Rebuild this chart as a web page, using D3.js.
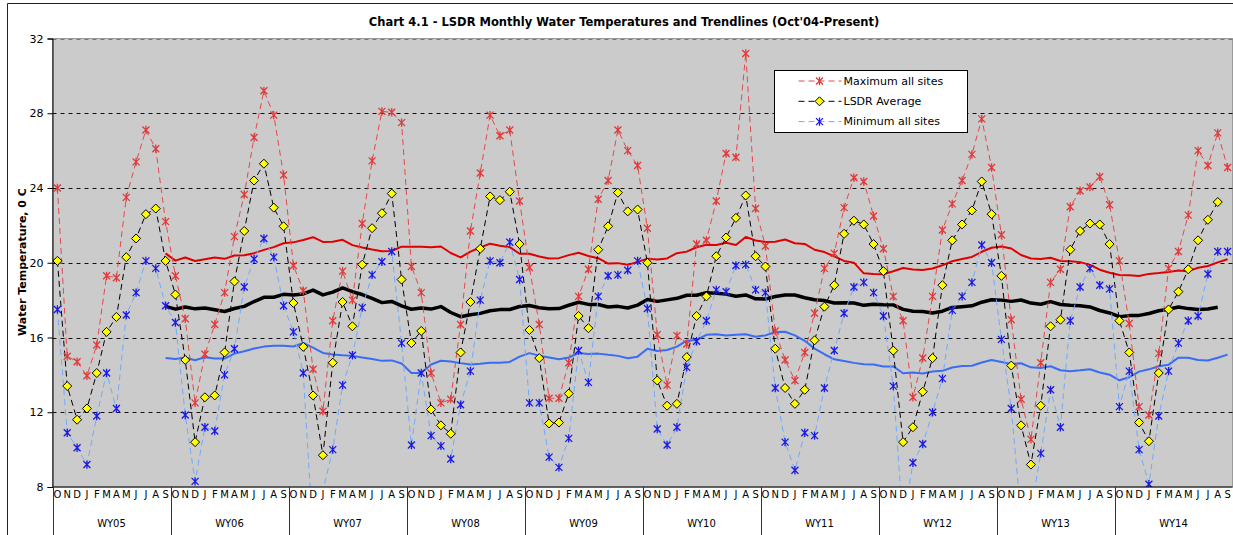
<!DOCTYPE html>
<html>
<head>
<meta charset="utf-8">
<title>Chart 4.1 - LSDR Monthly Water Temperatures</title>
<script src="https://d3js.org/d3.v7.min.js"></script>
<style>
  body { margin: 0; background: #fff; }
  text { font-family: "DejaVu Sans", Verdana, sans-serif; }
</style>
</head>
<body>
<svg id="chart" width="1233" height="535"></svg>
<script>
// water years and month labels for the category axis
const waterYears = ["WY05", "WY06", "WY07", "WY08", "WY09", "WY10", "WY11", "WY12", "WY13", "WY14"];
const monthLabels = ["O", "N", "D", "J", "F", "M", "A", "M", "J", "J", "A", "S"];
const yTicks = [8, 12, 16, 20, 24, 28, 32];

// monthly values, Oct'04 .. Sep'14
const maxAllSites = [
  24.0, 15.0, 14.7, 13.95, 15.6, 19.3, 19.2, 23.5, 25.4, 27.1, 26.1, 22.2,
  19.3, 17.0, 12.5, 15.1, 16.7, 18.4, 21.4, 23.65, 26.7, 29.2, 27.9, 24.7,
  19.85, 18.5, 14.3, 12.05, 16.9, 19.55, 18.0, 22.1, 25.45, 28.1, 28.05, 27.5,
  19.8, 18.4, 14.1, 12.5, 12.7, 16.7, 21.7, 24.8, 27.9, 26.8, 27.1, 23.3,
  19.75, 16.7, 12.75, 12.75, 14.65, 18.2, 19.65, 23.4, 24.4, 27.1, 26.0, 25.2,
  21.85, 16.15, 13.45, 16.1, 15.65, 21.0, 21.2, 23.3, 25.85, 25.65, 31.2, 22.9,
  20.9, 16.35, 14.8, 13.7, 15.2, 17.3, 19.7, 20.5, 22.95, 24.55, 24.35, 22.5,
  20.75, 18.2, 16.9, 12.8, 14.9, 18.2, 21.75, 23.15, 24.4, 25.8, 27.7, 25.1,
  21.5, 16.95, 12.7, 10.55, 14.65, 18.95, 19.65, 23.0, 23.85, 24.05, 24.6, 23.1,
  20.1, 16.75, 12.3, 11.85, 15.15, 19.7, 20.6, 22.55, 26.0, 25.2, 26.95, 25.1
];
const lsdrAverage = [
  20.1, 13.4, 11.6, 12.2, 14.1, 16.3, 17.1, 20.3, 21.3, 22.6, 22.9, 20.1,
  18.3, 14.8, 10.4, 12.8, 12.9, 15.2, 19.0, 21.7, 24.4, 25.3, 22.95, 21.95,
  17.85, 15.5, 12.9, 9.7, 14.65, 17.9, 16.6, 19.9, 21.85, 22.65, 23.7, 19.1,
  15.7, 16.35, 12.15, 11.3, 10.85, 15.2, 17.9, 20.75, 23.55, 23.35, 23.8, 21.0,
  16.4, 14.9, 11.4, 11.45, 13.0, 17.15, 16.5, 20.7, 21.95, 23.75, 22.75, 22.85,
  20.0, 13.7, 12.35, 12.45, 14.95, 17.15, 18.2, 20.35, 21.35, 22.4, 23.6, 20.35,
  19.8, 15.4, 13.3, 12.45, 13.2, 15.85, 17.65, 18.8, 21.55, 22.25, 22.05, 21.0,
  19.55, 15.3, 10.4, 11.2, 13.1, 14.9, 18.8, 21.2, 22.05, 22.8, 24.35, 22.6,
  19.3, 14.5, 11.3, 9.2, 12.35, 16.6, 16.95, 20.7, 21.7, 22.1, 22.05, 21.0,
  16.9, 15.2, 11.45, 10.45, 14.1, 17.5, 18.45, 19.65, 21.2, 22.3, 23.25, null
];
const minAllSites = [
  17.5, 10.9, 10.1, 9.2, 11.8, 14.1, 12.2, 17.2, 18.4, 20.1, 19.7, 17.7,
  16.8, 11.85, 8.3, 11.2, 11.0, 14.0, 15.4, 18.7, 20.2, 21.3, 20.3, 17.7,
  16.3, 14.1, 5.3, 7.8, 10.0, 13.45, 15.05, 17.6, 19.35, 20.05, 20.6, 15.7,
  10.25, 14.1, 10.75, 10.2, 9.5, 12.4, 14.2, 18.0, 20.1, 20.0, 21.1, 19.1,
  12.5, 12.5, 9.6, 9.05, 10.6, 15.3, 13.6, 18.2, 19.3, 19.35, 19.6, 20.1,
  17.55, 11.1, 10.25, 11.2, 14.4, 15.8, 16.9, 18.55, 18.45, 19.85, 19.9, 18.55,
  18.4, 13.3, 10.4, 8.9, 10.9, 10.75, 13.3, 15.3, 17.3, 18.7, 18.95, 18.4,
  17.15, 13.4, 6.0, 9.3, 10.3, 12.0, 13.8, 17.45, 18.2, 18.95, 20.95, 20.0,
  15.9, 12.2, 6.4, 6.7, 9.8, 13.2, 11.2, 16.9, 18.7, 19.7, 18.8, 18.6,
  12.3, 14.2, 10.0, 8.15, 11.8, 14.2, 15.7, 16.9, 17.15, 19.4, 20.6, 20.6
];

const svg = d3.select("#chart");
const plotLeft = 52.5, plotRight = 1232.5, plotTop = 38.5, plotBottom = 487;

const months = d3.range(waterYears.length * 12);
const x = d3.scaleBand().domain(months).range([plotLeft, plotRight]);
const y = d3.scaleLinear().domain([8, 32]).range([plotBottom, plotTop]);
const cx = i => x(i) + x.bandwidth() / 2;

// 12 month moving average, like the Excel trendline
function movingAvg(vals, n) {
  const out = [];
  for (let i = n - 1; i < vals.length; i++) {
    const w = vals.slice(i - n + 1, i + 1);
    if (w.some(v => v == null)) continue;
    out.push({ i: i, v: d3.mean(w) });
  }
  return out;
}

// outer chart frame (only left and top edges are in view)
svg.append("path")
  .attr("d", "M7.5,535V3.5H1233")
  .attr("fill", "none").attr("stroke", "#222");

// plot area
svg.append("rect")
  .attr("x", plotLeft).attr("y", plotTop)
  .attr("width", plotRight - plotLeft).attr("height", plotBottom - plotTop)
  .attr("fill", "#cbcbcb").attr("stroke", "#9a9a9a");

svg.append("clipPath").attr("id", "plotClip")
  .append("rect")
  .attr("x", plotLeft).attr("y", plotTop)
  .attr("width", plotRight - plotLeft).attr("height", plotBottom - plotTop);

// gridlines
svg.append("g")
  .selectAll("line")
  .data(yTicks.filter(t => t > 8))
  .join("line")
  .attr("x1", plotLeft).attr("x2", plotRight)
  .attr("y1", d => Math.round(y(d)) + 0.5).attr("y2", d => Math.round(y(d)) + 0.5)
  .attr("stroke", d => d === 32 ? "#777" : "#111")
  .attr("stroke-dasharray", "4,4");

const plot = svg.append("g").attr("clip-path", "url(#plotClip)");

// trendlines
const trends = [
  { vals: maxAllSites, color: "#e00000", width: 2 },
  { vals: lsdrAverage, color: "#000", width: 3.5 },
  { vals: minAllSites, color: "#3a6cf4", width: 2 }
];
trends.forEach(t => {
  plot.append("path")
    .datum(movingAvg(t.vals, 12))
    .attr("fill", "none")
    .attr("stroke", t.color)
    .attr("stroke-width", t.width)
    .attr("stroke-linejoin", "round")
    .attr("d", d3.line().x(d => cx(d.i)).y(d => y(d.v)));
});

// monthly series
const starPath = "M-3.5,-3.5L3.5,3.5M-3.5,3.5L3.5,-3.5M0,-4.2V4.2";
const diamondPath = "M0,-4.5L4.5,0L0,4.5L-4.5,0Z";
const series = [
  { name: "Maximum all sites", vals: maxAllSites, line: "#e5484a", mark: "star", markColor: "#e03a3a" },
  { name: "LSDR Average", vals: lsdrAverage, line: "#000", mark: "diamond", markColor: "#ffff00" },
  { name: "Minimum all sites", vals: minAllSites, line: "#6eaaff", mark: "star", markColor: "#1a1ae6" }
];

function drawMarker(g, s) {
  if (s.mark === "star") {
    g.append("path").attr("d", starPath)
      .attr("fill", "none").attr("stroke", s.markColor).attr("stroke-width", 1.3);
  } else {
    g.append("path").attr("d", diamondPath)
      .attr("fill", s.markColor).attr("stroke", "#000").attr("stroke-width", 1);
  }
}

const lineGen = d3.line()
  .defined(d => d != null)
  .x((d, i) => cx(i))
  .y(d => y(d));

series.forEach(s => {
  plot.append("path")
    .datum(s.vals)
    .attr("fill", "none")
    .attr("stroke", s.line)
    .attr("stroke-width", 1)
    .attr("stroke-dasharray", "6,4")
    .attr("d", lineGen);
});

series.forEach(s => {
  const pts = s.vals.map((v, i) => ({ i: i, v: v }))
    .filter(d => d.v != null && d.v >= 8 && d.v <= 32);
  pts.forEach(d => {
    const g = plot.append("g").attr("transform", `translate(${cx(d.i)},${y(d.v)})`);
    drawMarker(g, s);
  });
});

// y axis
const yAxis = svg.append("g")
  .attr("transform", `translate(${plotLeft},0)`)
  .call(d3.axisLeft(y).tickValues(yTicks).tickSize(5).tickPadding(4).tickFormat(d3.format("d")));
yAxis.selectAll("text").attr("font-size", 11).attr("fill", "#000")
  .style("font-family", '"DejaVu Sans", Verdana, sans-serif');
yAxis.select(".domain").attr("stroke", "#000");

// x axis, month letters
const xAxis = svg.append("g")
  .attr("transform", `translate(0,${plotBottom})`)
  .call(d3.axisBottom(x).tickValues(months).tickSize(0).tickPadding(4)
    .tickFormat(i => monthLabels[i % 12]));
xAxis.select(".domain").remove();
xAxis.selectAll("text").attr("font-size", 10).attr("fill", "#000")
  .style("font-family", '"DejaVu Sans", Verdana, sans-serif');

svg.append("line")
  .attr("x1", plotLeft).attr("x2", plotRight)
  .attr("y1", plotBottom).attr("y2", plotBottom)
  .attr("stroke", "#000");

// water year separators and labels
const yearEdges = d3.range(waterYears.length + 1).map(k => k < waterYears.length ? x(k * 12) : plotRight);
svg.append("g").selectAll("line")
  .data(yearEdges)
  .join("line")
  .attr("x1", d => Math.round(d) + 0.5).attr("x2", d => Math.round(d) + 0.5)
  .attr("y1", plotBottom).attr("y2", 535)
  .attr("stroke", "#333");

svg.append("g").selectAll("text")
  .data(waterYears)
  .join("text")
  .attr("x", (d, k) => (yearEdges[k] + yearEdges[k + 1]) / 2)
  .attr("y", 527)
  .attr("text-anchor", "middle")
  .attr("font-size", 10)
  .text(d => d);

// titles
svg.append("text")
  .attr("x", 624).attr("y", 26)
  .attr("text-anchor", "middle")
  .attr("font-size", 11.5).attr("font-weight", "bold")
  .text("Chart 4.1 - LSDR Monthly Water Temperatures and Trendlines (Oct'04-Present)");

svg.append("text")
  .attr("transform", "translate(26,262) rotate(-90)")
  .attr("text-anchor", "middle")
  .attr("font-size", 11).attr("font-weight", "bold")
  .text("Water Temperature, 0 C");

// legend
const legend = svg.append("g").attr("transform", "translate(774.5,70.5)");
legend.append("rect")
  .attr("width", 193).attr("height", 62)
  .attr("fill", "#fff").attr("stroke", "#000");
series.forEach((s, k) => {
  const ly = 10.5 + k * 20.3;
  legend.append("line")
    .attr("x1", 24).attr("x2", 67).attr("y1", ly).attr("y2", ly)
    .attr("stroke", s.line).attr("stroke-dasharray", "6,4");
  drawMarker(legend.append("g").attr("transform", `translate(45,${ly})`), s);
  legend.append("text")
    .attr("x", 69).attr("y", ly)
    .attr("dy", "0.35em")
    .attr("font-size", 11)
    .text(s.name);
});
</script>
</body>
</html>
